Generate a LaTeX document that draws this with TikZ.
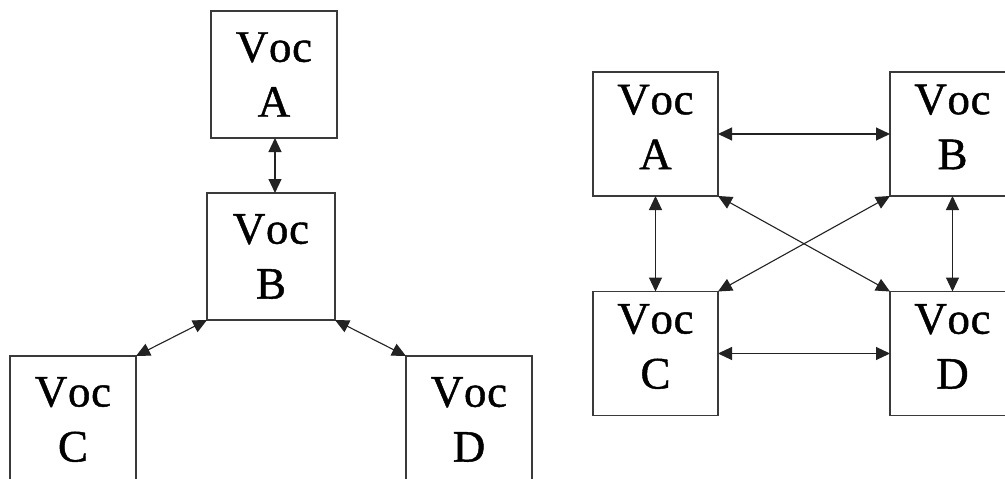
\documentclass[tikz,border=0pt]{standalone}
\usepackage{fontspec}
\setmainfont{Liberation Serif}
\newfontfamily\vocfont[Kerning=Off,LetterSpace=1.5,FakeBold=1]{Liberation Serif}
\usetikzlibrary{arrows.meta}
\definecolor{boxline}{HTML}{3A3A3A}
\definecolor{arrline}{HTML}{222222}
\tikzset{
  vocbox/.style={draw=boxline, line width=1.3pt, rectangle, inner sep=0pt, outer sep=0pt},
  voclbl/.style={align=center, inner sep=0pt, outer sep=0pt, text=black,
    font=\vocfont\fontsize{45}{55}\selectfont},
  link/.style={draw=arrline, line width=1.1pt,
    {Triangle[length=14pt,width=13pt]}-{Triangle[length=14pt,width=13pt]}}
}
\begin{document}
\begin{tikzpicture}[x=1pt,y=-1pt]
\useasboundingbox (0,0) rectangle (1005,479);
\clip (0,0) rectangle (1005,479);
\fill[white] (0,0) rectangle (1005,479);
% left diagram
\node[vocbox, minimum width=126pt, minimum height=127pt] (LA) at (274,74.5) {};
\node[voclbl] (LAt) at (LA) {Voc\\A};
\node[vocbox, minimum width=128pt, minimum height=127pt] (LB) at (271,256.5) {};
\node[voclbl] (LBt) at (LB) {Voc\\B};
\node[vocbox, minimum width=126pt, minimum height=127pt] (LC) at (73,419.5) {};
\node[voclbl] (LCt) at (LC) {Voc\\C};
\node[vocbox, minimum width=126pt, minimum height=127pt] (LD) at (469,419.5) {};
\node[voclbl] (LDt) at (LD) {Voc\\D};
\draw[link] ([xshift=1pt]LA.south) -- ([xshift=1pt]LA.south |- LB.north);
\draw[link] (LB.south west) -- (LC.north east);
\draw[link] (LB.south east) -- (LD.north west);
% right diagram
\node[vocbox, minimum width=125pt, minimum height=124pt] (RA) at (655.5,134) {};
\node[voclbl] (RAt) at ([yshift=7pt]RA.center) {Voc\\A};
\node[vocbox, minimum width=125pt, minimum height=124pt] (RB) at (952.5,134) {};
\node[voclbl] (RBt) at ([yshift=7pt]RB.center) {Voc\\B};
\node[vocbox, minimum width=125pt, minimum height=124pt] (RC) at (655.5,353.5) {};
\node[voclbl] (RCt) at ([yshift=7pt]RC.center) {Voc\\C};
\node[vocbox, minimum width=125pt, minimum height=124pt] (RD) at (952.5,353.5) {};
\node[voclbl] (RDt) at ([yshift=7pt]RD.center) {Voc\\D};
\draw[link] (RA.east) -- (RB.west);
\draw[link] (RC.east) -- (RD.west);
\draw[link] (RA.south) -- (RC.north);
\draw[link] (RB.south) -- (RD.north);
\draw[link] (RA.south east) -- (RD.north west);
\draw[link] (RB.south west) -- (RC.north east);
\end{tikzpicture}
\end{document}
